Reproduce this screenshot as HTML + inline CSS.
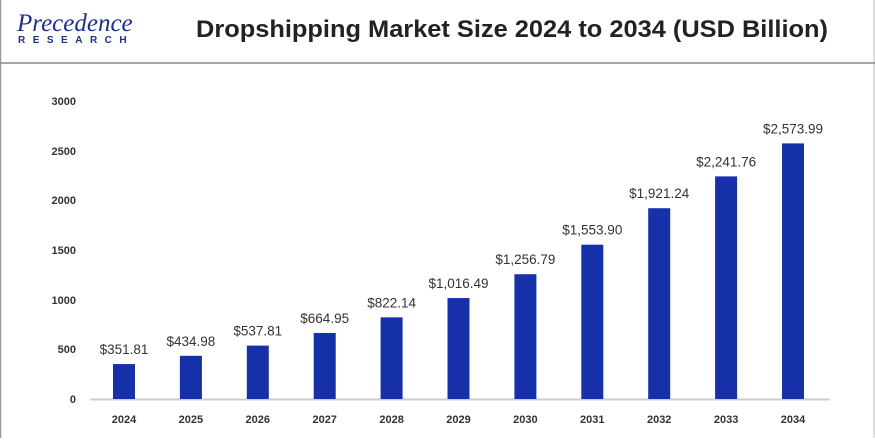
<!DOCTYPE html>
<html><head><style>
body{margin:0;width:875px;height:438px;background:#fff;overflow:hidden;font-family:"Liberation Sans",sans-serif}
</style></head><body>
<svg width="875" height="438" xmlns="http://www.w3.org/2000/svg">
<line x1="0.5" y1="0" x2="0.5" y2="438" stroke="#999" stroke-width="1.5"/>
<line x1="874" y1="0" x2="874" y2="438" stroke="#bbb" stroke-width="1"/>
<line x1="0" y1="63" x2="875" y2="63" stroke="#888" stroke-width="1.5"/>
<text x="17" y="31" font-family="Liberation Serif,serif" font-size="25" fill="#1d2f8f" font-style="italic">Precedence</text>
<text x="18" y="43" font-size="10" font-weight="bold" fill="#1d2f8f" letter-spacing="7.5">RESEARCH</text>
<text x="196" y="37" font-size="24" font-weight="bold" fill="#222" textLength="632" lengthAdjust="spacingAndGlyphs">Dropshipping Market Size 2024 to 2034 (USD Billion)</text>
<g font-size="11" font-weight="bold" fill="#333" text-anchor="end">
<text x="76" y="105">3000</text><text x="76" y="155">2500</text><text x="76" y="204">2000</text>
<text x="76" y="254">1500</text><text x="76" y="304">1000</text><text x="76" y="353">500</text><text x="76" y="403">0</text>
</g>
<line x1="90" y1="399.5" x2="830" y2="399.5" stroke="#ccc" stroke-width="2"/>
<g id="bars" fill="#1530a8"></g>
<g id="lbl" font-size="13.5" fill="#333" text-anchor="middle"></g>
<g id="yr" font-size="11" font-weight="bold" fill="#333" text-anchor="middle"></g>
</svg>
<script>
var v=[351.81,434.98,537.81,664.95,822.14,1016.49,1256.79,1553.90,1921.24,2241.76,2573.99];
var s=["$351.81","$434.98","$537.81","$664.95","$822.14","$1,016.49","$1,256.79","$1,553.90","$1,921.24","$2,241.76","$2,573.99"];
var ns="http://www.w3.org/2000/svg",b=document.getElementById("bars"),l=document.getElementById("lbl"),y=document.getElementById("yr");
for(var i=0;i<11;i++){var cx=124+i*66.9,h=v[i]*0.0993,t=399-h;
var r=document.createElementNS(ns,"rect");r.setAttribute("x",cx-11);r.setAttribute("y",t);r.setAttribute("width",22);r.setAttribute("height",h);b.appendChild(r);
var tx=document.createElementNS(ns,"text");tx.setAttribute("x",cx);tx.setAttribute("y",t-10);tx.textContent=s[i];l.appendChild(tx);
var yy=document.createElementNS(ns,"text");yy.setAttribute("x",cx);yy.setAttribute("y",423);yy.textContent=2024+i;y.appendChild(yy);}
</script>
</body></html>
